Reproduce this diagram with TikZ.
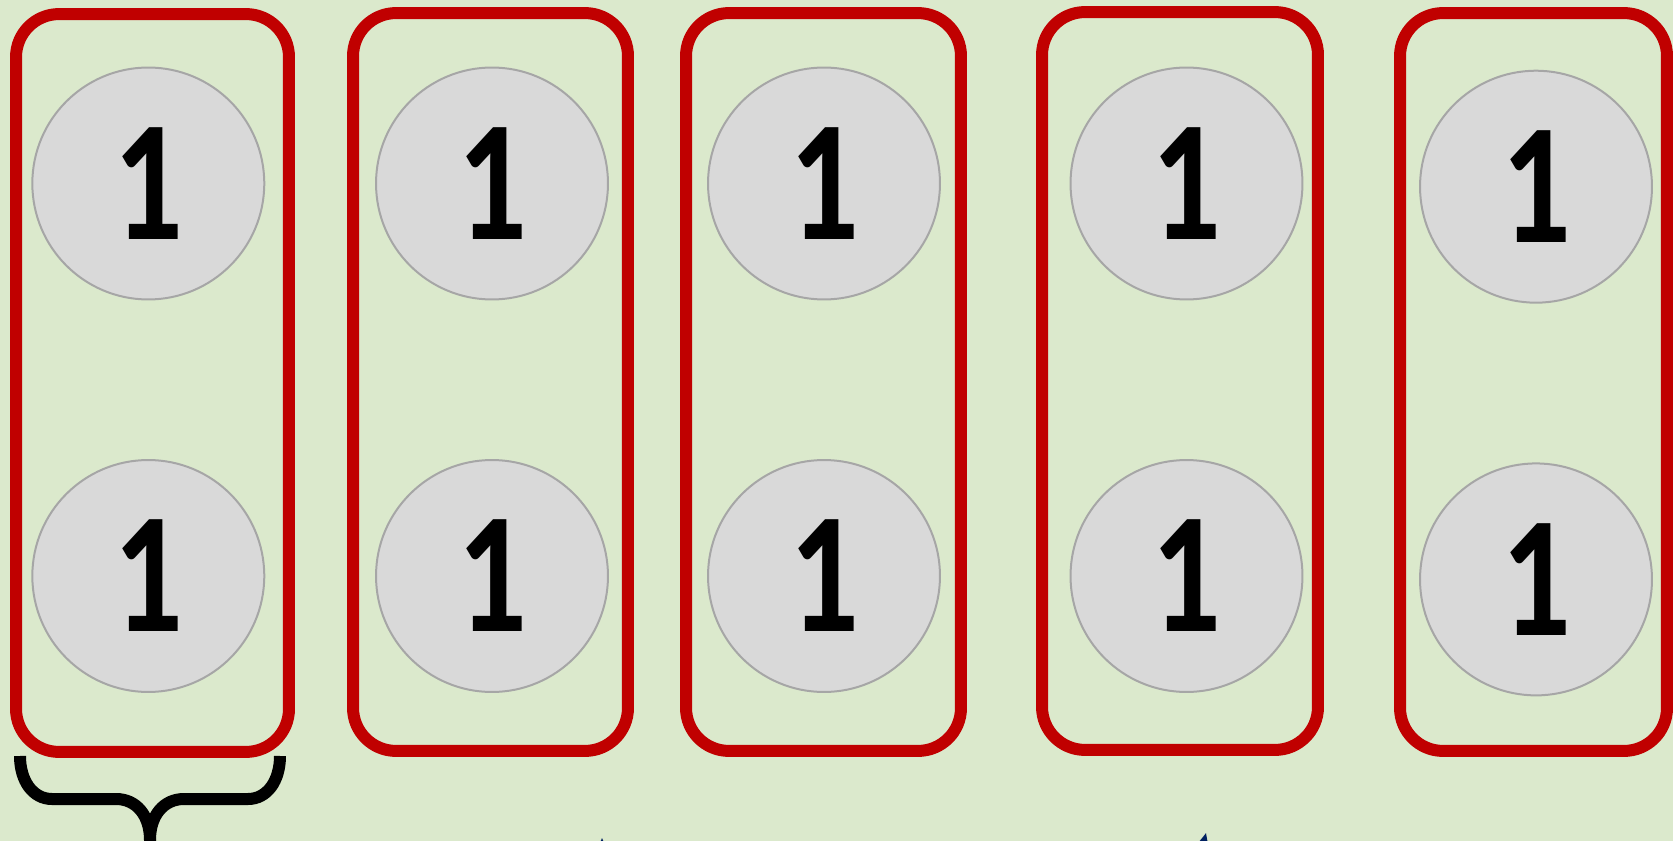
\documentclass[tikz,border=0pt]{standalone}
\usepackage{fontspec}
\setmainfont{Carlito}[FakeStretch=0.8]
\usepackage{tikz}
\usetikzlibrary{arrows.meta, positioning}
\usepackage{xcolor}
\definecolor{bgGreen}{RGB}{219,233,204}
\definecolor{boxRed}{RGB}{192,0,0}
\definecolor{ballFill}{RGB}{217,217,217}
\definecolor{ballLine}{RGB}{166,166,166}
\definecolor{navy}{RGB}{0,32,96}

\begin{document}
\begin{tikzpicture}[
      x=0.02cm, y=-0.02cm,
      pair/.style={draw=boxRed, line width=0.24cm, rounded corners=0.86cm, minimum height=14.76cm, inner sep=0pt},
      ball/.style={circle, draw=ballLine, fill=ballFill, line width=0.04cm, minimum size=4.64cm, inner sep=0pt, font=\fontsize{98}{98}\selectfont\bfseries},
      brace/.style={draw=black, line width=0.24cm},
      pointer/.style={draw=navy, fill=navy, line width=0.12cm, -{Latex[length=0.6cm, width=0.8cm]}}
    ]
    \useasboundingbox (0,0) rectangle (1673,841);
    \clip (0,0) rectangle (1673,841);
    \fill[bgGreen] (0,0) rectangle (1673,841);

    \node[pair, minimum width=5.46cm] (p1) at (152.5,383) {};
    \node[pair, minimum width=5.50cm] (p2) at (490.5,382) {};
    \node[pair, minimum width=5.50cm] (p3) at (823.5,382) {};
    \node[pair, minimum width=5.52cm] (p4) at (1180,381) {};
    \node[pair, minimum width=5.34cm] (p5) at (1533.5,382) {};

    \node[ball] (a1) at (148.3,183.5) {1};
    \node[ball] (b1) at (148.3,576) {1};
    \node[ball] (a2) at (492,183.5) {1};
    \node[ball] (b2) at (492,576) {1};
    \node[ball] (a3) at (824,183.5) {1};
    \node[ball] (b3) at (824,576) {1};
    \node[ball] (a4) at (1186.5,183.5) {1};
    \node[ball] (b4) at (1186.5,576) {1};
    \node[ball] (a5) at (1536,186.7) {1};
    \node[ball] (b5) at (1536,579.4) {1};

    \draw[brace] (20,756) .. controls (20,781) and (33,799) .. (52,799) -- (116,799)
      .. controls (136,799) and (150,815) .. (150,840) -- (150,870);
    \draw[brace] (150,840) .. controls (150,815) and (164,799) .. (184,799) -- (248,799)
      .. controls (267,799) and (280,781) .. (280,756);

    \coordinate (tipA) at (602,838);
    \coordinate (tailA) at (602,960);
    \coordinate (tipB) at (1206,833);
    \coordinate (tailB) at (1176,953);
    \draw[pointer] (tailA) -- (tipA);
    \draw[pointer] (tailB) -- (tipB);
  \end{tikzpicture}
\end{document}
